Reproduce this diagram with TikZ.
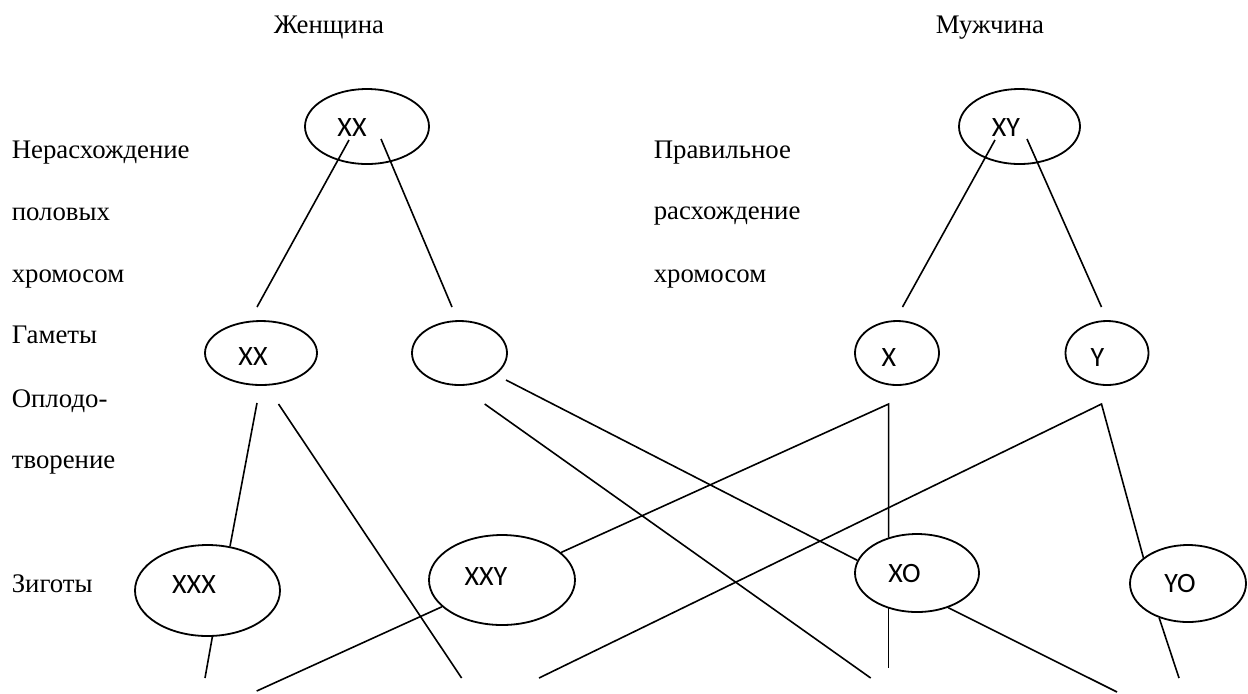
\documentclass[tikz,border=0pt]{standalone}
\usepackage{fontspec}
\setmainfont{Liberation Serif}
\newfontfamily\genefont{Carlito}
\usetikzlibrary{shapes.geometric}

\tikzset{
  gene/.style={draw, ellipse, inner sep=0pt, line width=0.9pt},
  gtext/.style={font=\genefont\fontsize{14}{16}\selectfont, inner sep=0pt},
  lbl/.style={anchor=base west, inner sep=0pt, font=\fontsize{13.4}{15}\selectfont},
}

\begin{document}
\begin{tikzpicture}[x=0.5pt, y=-0.5pt, line width=0.8pt]
\useasboundingbox (0,0) rectangle (1248,693);
% headings
\node[lbl, anchor=base] (woman) at (329,33) {Женщина};
\node[lbl, anchor=base] (man) at (990,33) {Мужчина};
% row captions
\foreach \t/\y [count=\i] in {Нерасхождение/158, половых/220, хромосом/282, Гаметы/343, Оплодо-/407, творение/468, Зиготы/592}
  \node[lbl] (left\i) at (11,\y) {\t};
\foreach \t/\y [count=\i] in {Правильное/158, расхождение/219, хромосом/282}
  \node[lbl] (mid\i) at (653,\y) {\t};

% ellipses: name/x/y/width/height
\foreach \n/\x/\y/\w/\h in {fxx/367/126.5/62pt/37.5pt, mxy/1019.5/126.5/60.5pt/37.5pt,
    gxx/261/353/56pt/32pt, gnull/459.5/353/47.5pt/32pt, gx/897/353/42pt/32pt, gy/1107/353/41.5pt/32pt,
    zxxx/207.5/590.5/72.5pt/45.5pt, zxxy/502/580/73pt/45pt, zxo/917/573/62pt/39pt, zyo/1188/583.5/58pt/38.5pt}
  \node[gene, minimum width=\w, minimum height=\h] (\n) at (\x,\y) {};
% chromosome sets
\foreach \n/\x/\y/\t in {fxx/352/128/XX, mxy/1006/128/XY, gxx/253/357/XX, gx/889/358/X, gy/1097.5/358/Y,
    zxxx/194/585/XXX, zxxy/486/577/XXY, zxo/904.5/573/XO, zyo/1180/583/YO}
  \node[gtext] (t\n) at (\x,\y) {\t};

% free ends
\coordinate (fl1) at (349,140);   \coordinate (fl2) at (257,307);
\coordinate (fr1) at (381,139);   \coordinate (fr2) at (452,307);
\coordinate (ml1) at (995,140);   \coordinate (ml2) at (902.5,307);
\coordinate (mr1) at (1027,139);  \coordinate (mr2) at (1101.5,307);
\coordinate (xx1) at (257,403);   \coordinate (xx2) at (278.5,404);
\coordinate (o1) at (484.7,404);  \coordinate (o2) at (506,380);
\coordinate (xa) at (888.6,404);  \coordinate (ya) at (1101.5,404);
\coordinate (b1) at (461.6,678);  \coordinate (b2) at (205,678);
\coordinate (b3) at (256.7,691);  \coordinate (b4) at (888.6,668);
\coordinate (b5) at (870.7,678);  \coordinate (b6) at (539,678);
\coordinate (b7) at (1117,692);   \coordinate (b8) at (1179,678);

% meiosis
\draw (fl1) -- (fl2);
\draw (fr1) -- (fr2);
\draw (ml1) -- (ml2);
\draw (mr1) -- (mr2);
% fertilization
\draw (xx1) -- (zxxx.63);
\draw (xx2) -- (b1);
\draw (zxxx.276) -- (b2);
\draw (zxxy.204) -- (b3);
\draw (zxxy.25) -- (xa) -- (xa |- zxo.129);
\draw (xa |- zxo.230) -- (b4);
\draw (o2) -- (zxo.168);
\draw (o1) -- (b5);
\draw (b6) -- (ya) -- (zyo.150);
\draw (zxo.312) -- (b7);
\draw (zyo.230) -- (b8);
\end{tikzpicture}
\end{document}
